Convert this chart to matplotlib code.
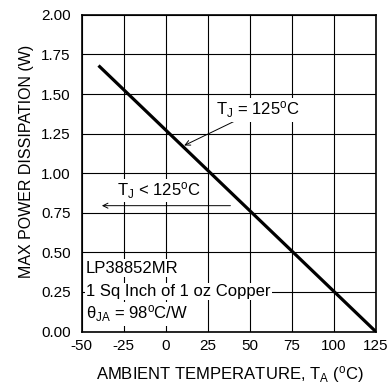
import matplotlib.pyplot as plt
import numpy as np

plt.rcParams['font.family'] = ['Liberation Sans', 'DejaVu Sans']
plt.rcParams['mathtext.fontset'] = 'custom'
plt.rcParams['mathtext.rm'] = 'Liberation Sans'
plt.rcParams['mathtext.it'] = 'Liberation Sans'
plt.rcParams['axes.unicode_minus'] = False

# derating curve: TJ = 125C, theta_JA = 98 C/W
temp_c = [-40, 125]
power_w = [1.68, 0.0]

x_ticks = [-50, -25, 0, 25, 50, 75, 100, 125]
y_ticks = [0.0, 0.25, 0.5, 0.75, 1.0, 1.25, 1.5, 1.75, 2.0]
note_lines = ["LP38852MR", "1 Sq Inch of 1 oz Copper",
              r"θ$_\mathregular{JA}$ = 98$^\mathregular{o}$C/W"]

fig = plt.figure(figsize=(3.91, 3.91), dpi=100)
ax = fig.add_axes([0.209, 0.152, 0.752, 0.810])

ax.plot(temp_c, power_w, color='black', lw=2.3, solid_capstyle='butt', zorder=3)

ax.set_xlim(-50, 125)
ax.set_ylim(0, 2.0)
ax.set_xticks(x_ticks)
ax.set_yticks(y_ticks)
ax.set_yticklabels([f"{v:.2f}" for v in y_ticks])
ax.grid(True, color='black', lw=0.8)
ax.set_axisbelow(True)
ax.tick_params(length=0, labelsize=11)
ax.tick_params(axis='y', pad=8)
ax.tick_params(axis='x', pad=5)
for sp in ax.spines.values():
    sp.set_linewidth(1.2)

ax.set_xlabel(r"AMBIENT TEMPERATURE, T$_\mathregular{A}$ ($^\mathregular{o}$C)", fontsize=12)
ax.set_ylabel("MAX POWER DISSIPATION (W)", fontsize=11.5)
ax.xaxis.set_label_coords(0.505, -0.102)
ax.yaxis.set_label_coords(-0.162, 0.536)

box = dict(facecolor='white', edgecolor='none', pad=1.0)

ax.annotate(r"T$_\mathregular{J}$ = 125$^\mathregular{o}$C", xy=(11, 1.175), xytext=(30, 1.40),
            fontsize=12, va='center', ha='left', bbox=box, zorder=4,
            arrowprops=dict(arrowstyle='->', color='black', lw=0.7,
                            shrinkA=0, shrinkB=0, mutation_scale=9))

ax.text(-29, 0.89, r"T$_\mathregular{J}$ < 125$^\mathregular{o}$C", fontsize=12,
        va='center', ha='left', bbox=box, zorder=4)
ax.annotate("", xy=(-38, 0.795), xytext=(38.5, 0.795),
            arrowprops=dict(arrowstyle='->', color='black', lw=0.7,
                            shrinkA=0, shrinkB=0, mutation_scale=9), zorder=4)

for yv, line in zip([0.40, 0.254, 0.11], note_lines):
    ax.text(-47.5, yv, line, fontsize=12, va='center', ha='left', bbox=box, zorder=4)

fig.savefig("out.png", dpi=100)
